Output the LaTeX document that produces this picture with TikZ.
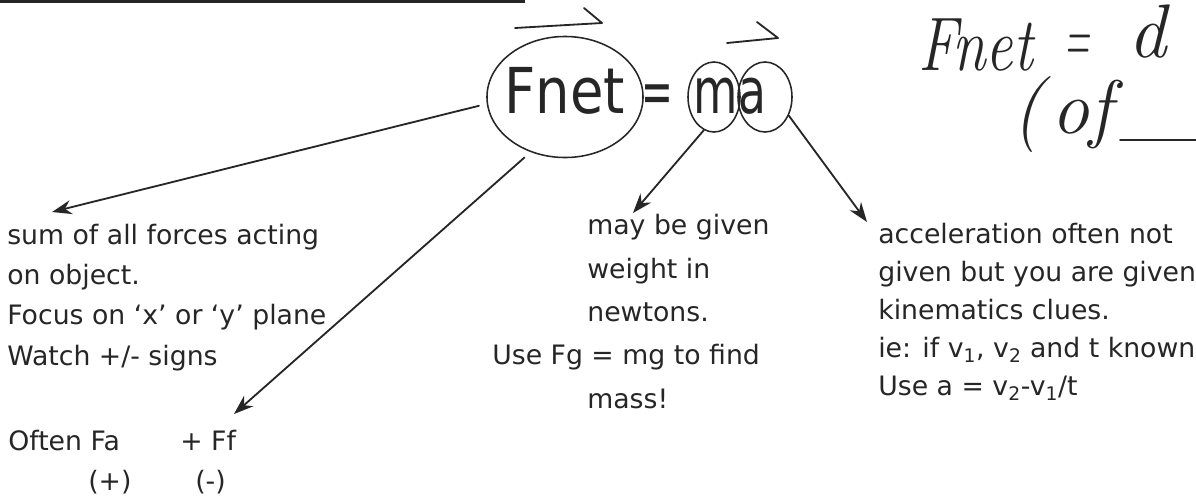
\documentclass[tikz,border=0pt]{standalone}
\usepackage{fontspec}
\usepackage{graphicx}
\newfontfamily\comicfont{DejaVu Sans}
\usetikzlibrary{shapes.geometric, arrows.meta}

\tikzset{
  ink/.style={draw=black!85, line width=1.3pt, line cap=round, line join=round},
  ptr/.style={ink, -{Stealth[length=14pt, width=10pt]}},
  ring/.style={ellipse, draw=black!85, line width=1.1pt, inner sep=0pt},
  note/.style={font=\comicfont\fontsize{19}{28.5}\selectfont, text=black!85,
    inner sep=0pt, align=left, anchor=base west},
  bigtxt/.style={font=\comicfont\fontsize{45}{45}\selectfont, text=black!85,
    inner sep=0pt, anchor=base},
  hand/.style={font=\itshape\fontsize{54}{54}\selectfont, text=black!85,
    inner sep=0pt, anchor=base west},
}

\begin{document}
\begin{tikzpicture}[x=0.025cm, y=-0.025cm]
    \useasboundingbox (0,0) rectangle (1196,501);
    % Kopregel
    \draw[black!85, line width=2.2pt] (0,1.5) -- (525,1.5);
    % Fnet = ma
    \node[bigtxt] (fnettxt) at (565,113) {\scalebox{0.86}[1]{Fnet}};
    \node[ring, minimum width=3.9cm, minimum height=3.025cm] (fnet) at (565,97) {};
    \node[bigtxt] (eqtxt) at (657,113) {\scalebox{0.6}[1]{=}};
    \node[bigtxt] (mtxt) at (716,113) {\scalebox{0.72}[1]{m}};
    \node[bigtxt] (atxt) at (752,113) {\scalebox{0.72}[1]{a}};
    \node[ring, minimum width=1.3cm, minimum height=1.75cm] (m) at (714,97) {};
    \node[ring, minimum width=1.35cm, minimum height=1.75cm] (a) at (765,97) {};
    % vectorpijltjes
    \draw[ink] (515,28) -- (602,23) -- (584,8);
    \draw[ink] (727,43) -- (778,38) -- (757,22);
    % handgeschreven
    \node[hand] (hwfnet) at (918,70) {\scalebox{0.8}[1]{Fnet}};
    \node[hand] (hweq) at (1064,62) {\scalebox{0.45}[1]{=}};
    \node[hand] (hwd) at (1128,57) {d};
    \node[hand] (hwof) at (1012,133) {(\hspace{6pt}of};
    \draw[ink] (1120,140) -- (1196,140);
    % uitleg (anker = basislijn van de laatste regel)
    \node[note] (sum) at (7,365) {sum of all forces acting\\on object.\\Focus on ‘x’ or ‘y’ plane\\Watch +/- signs};
    \node[note] (often) at (8,450) {Often Fa};
    \node[note] (ff) at (180,450) {+ Ff};
    \node[note] (pos) at (88,490) {(+)};
    \node[note] (neg) at (195,490) {(-)};
    \node[note, font=\comicfont\fontsize{19}{30.8}\selectfont] (mayg) at (492,408)
      {\hspace*{67.6pt}may be given\\\hspace*{67.6pt}weight in\\\hspace*{67.6pt}newtons.\\Use Fg = mg to find\\\hspace*{67.6pt}mass!};
    \node[note, font=\comicfont\fontsize{19}{27}\selectfont] (accel) at (878,395)
      {acceleration often not\\given but you are given\\kinematics clues.\\ie: if v\textsubscript{1}, v\textsubscript{2} and t known\\Use a = v\textsubscript{2}-v\textsubscript{1}/t};
    % pijlen
    \coordinate (sumtip) at (52,212);
    \coordinate (fftip) at (234,414);
    \coordinate (maytip) at (633,213);
    \coordinate (acctip) at (867,222);
    \draw[ptr, shorten <=0.2cm] (fnet.185) -- (sumtip);
    \draw[ptr, shorten <=0.2cm] (fnet.238) -- (fftip);
    \draw[ptr] (m.253) -- (maytip);
    \draw[ptr] (a.-38) -- (acctip);
\end{tikzpicture}
\end{document}
